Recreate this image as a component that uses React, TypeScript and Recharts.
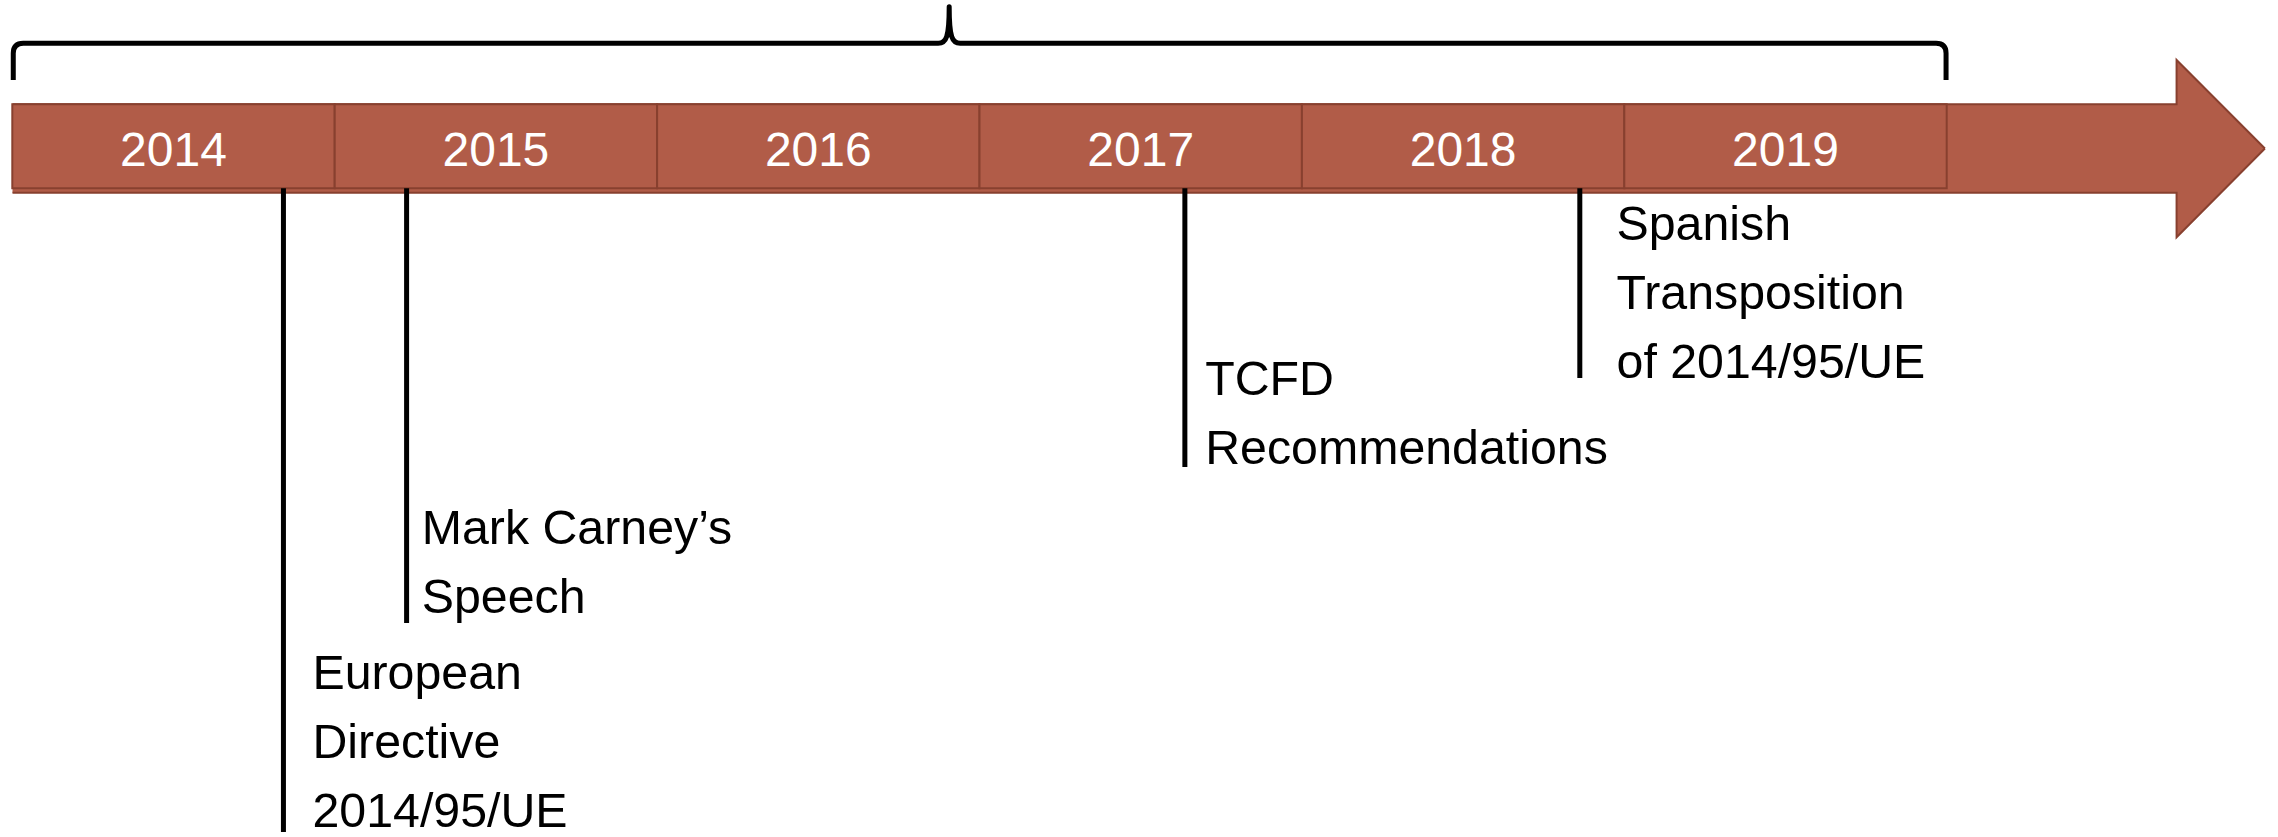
import React from 'react';
import {
  ComposedChart,
  XAxis,
  YAxis,
  Area,
  ReferenceArea,
  ReferenceLine,
  Scatter,
} from 'recharts';

// ---- data ----
const years = [2014, 2015, 2016, 2017, 2018, 2019];

const eventLabels: string[][] = [
  ['European', 'Directive', '2014/95/UE'],
  ['Mark Carney\u2019s', 'Speech'],
  ['TCFD', 'Recommendations'],
  ['Spanish', 'Transposition', 'of 2014/95/UE'],
];
const eventDates = [2014.841, 2015.223, 2017.637, 2018.862];
const eventDepths = [832, 623, 467, 378];
const labelDates = [2014.931, 2015.27, 2017.7, 2018.976];
const labelDepths = [689, 544, 395, 240];

// arrow outline (x in years, y in depth units)
const arrowX = [2014, 2020.713, 2020.713, 2020.987];
const arrowTop = [104.3, 104.3, 60, 148.5];
const arrowBottom = [192.7, 192.7, 237.3, 148.5];

// brace spanning the covered period
const braceStart = 2014.003;
const braceEnd = 2019.998;
const braceTip = 2016.906;
const braceTopY = 6.7;
const braceLineY = 43.3;
const braceBottomY = 80;

// timeline band
const bandTop = 104.3;
const cellBottom = 188.3;
const yearBaseline = 165.7;

// ---- style ----
const W = 2278;
const H = 837;
const FILL = '#B15C48';
const EDGE = '#88402F';
const FONT = '"Liberation Sans", Arial, Helvetica, sans-serif';
const FS = 48.3;
const YEAR_FS = 48;
const LINE_H = 69;

const arrowData = arrowX.map((x, i) => ({ x, range: [arrowTop[i], arrowBottom[i]] }));
const yearData = years.map((y) => ({ x: y + 0.5, y: yearBaseline, text: String(y) }));
const labelData = eventLabels.map((lines, i) => ({ x: labelDates[i], y: labelDepths[i], lines }));

const YearShape = (props: any) => {
  const { cx, cy, payload } = props;
  return (
    <text x={cx} y={cy} textAnchor="middle" fill="#ffffff" fontSize={YEAR_FS} fontFamily={FONT}>
      {payload.text}
    </text>
  );
};

const EventLabelShape = (props: any) => {
  const { cx, cy, payload } = props;
  return (
    <text x={cx} y={cy} fill="#000000" fontSize={FS} fontFamily={FONT}>
      {payload.lines.map((l: string, i: number) => (
        <tspan key={i} x={cx} y={cy + i * LINE_H}>
          {l}
        </tspan>
      ))}
    </text>
  );
};

const BraceShape = (props: any) => {
  const { x, y, width, height } = props;
  const tipFrac = (braceTip - braceStart) / (braceEnd - braceStart);
  const lineFrac = (braceLineY - braceTopY) / (braceBottomY - braceTopY);
  const tx = x + width * tipFrac;
  const ly = y + height * lineFrac;
  const r = 10;
  const c = 11;
  const x2 = x + width;
  const yb = y + height;
  const d = [
    `M ${x} ${yb}`,
    `L ${x} ${ly + r}`,
    `Q ${x} ${ly} ${x + r} ${ly}`,
    `L ${tx - c} ${ly}`,
    `C ${tx - 3} ${ly} ${tx} ${ly - 6} ${tx} ${y}`,
    `C ${tx} ${ly - 6} ${tx + 3} ${ly} ${tx + c} ${ly}`,
    `L ${x2 - r} ${ly}`,
    `Q ${x2} ${ly} ${x2} ${ly + r}`,
    `L ${x2} ${yb}`,
  ].join(' ');
  return <path d={d} fill="none" stroke="#000" strokeWidth={5} strokeLinejoin="round" />;
};

const xLeft = 12.3;
const pxPerYear = 322.4;
const xRight = xLeft + 7 * pxPerYear;

export default function App() {
  return (
    <div style={{ width: W, height: H, background: '#fff' }}>
      <style>{'body{margin:0;background:#fff;}'}</style>
      <ComposedChart
        width={W}
        height={H}
        data={arrowData}
        margin={{ top: 0, right: W - xRight, bottom: 0, left: xLeft }}
      >
        <XAxis dataKey="x" type="number" domain={[2014, 2021]} allowDataOverflow hide />
        <YAxis type="number" domain={[0, H]} reversed allowDataOverflow hide />
        <Area
          dataKey="range"
          type="linear"
          fill={FILL}
          fillOpacity={1}
          stroke={EDGE}
          strokeWidth={2}
          dot={false}
          activeDot={false}
          isAnimationActive={false}
          zIndex={100}
        />
        {years.map((y) => (
          <ReferenceArea
            key={y}
            x1={y}
            x2={y + 1}
            y1={bandTop}
            y2={cellBottom}
            fill={FILL}
            fillOpacity={1}
            stroke={EDGE}
            strokeWidth={2}
            zIndex={200}
          />
        ))}
        {eventDates.map((d, i) => (
          <ReferenceLine
            key={i}
            segment={[
              { x: d, y: cellBottom },
              { x: d, y: eventDepths[i] },
            ]}
            stroke="#000"
            strokeWidth={5}
            zIndex={300}
          />
        ))}
        <ReferenceArea
          x1={braceStart}
          x2={braceEnd}
          y1={braceTopY}
          y2={braceBottomY}
          shape={BraceShape}
          zIndex={300}
        />
        <Scatter data={yearData} dataKey="y" shape={YearShape} isAnimationActive={false} zIndex={400} />
        <Scatter data={labelData} dataKey="y" shape={EventLabelShape} isAnimationActive={false} zIndex={400} />
      </ComposedChart>
    </div>
  );
}
